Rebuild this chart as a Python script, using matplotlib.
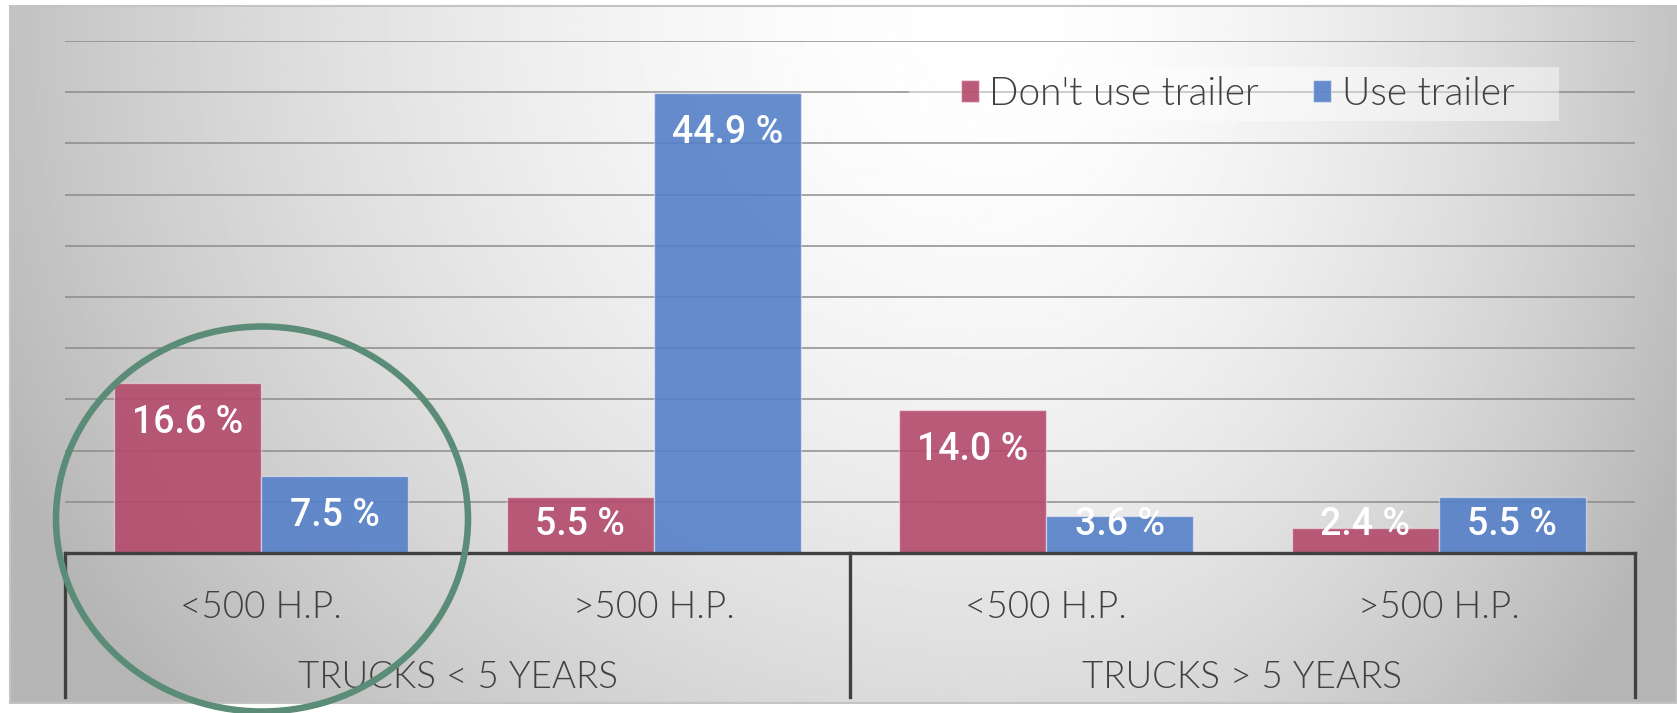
import numpy as np
import matplotlib
import matplotlib.pyplot as plt
from matplotlib.colors import to_rgba
from matplotlib.patches import Ellipse, Rectangle

matplotlib.use("Agg")  # no display, just write the png

# Share of trucks (%) by age group and engine power
categories = ["<500 H.P.", ">500 H.P.", "<500 H.P.", ">500 H.P."]
groups = ["TRUCKS < 5 YEARS", "TRUCKS > 5 YEARS"]
series_names = ["Don't use trailer", "Use trailer"]
no_trailer = [16.6, 5.5, 14.0, 2.4]
with_trailer = [7.5, 44.9, 3.6, 5.5]

RED = "#b34a6b"
BLUE = "#5580c8"
TEXT = "#404040"
LABEL_FONT = ["Lato", "DejaVu Sans"]
VALUE_FONT = ["Roboto", "DejaVu Sans"]

W, H, DPI = 1677, 713, 100
fig = plt.figure(figsize=(W / DPI, H / DPI), dpi=DPI)


def fx(px):
    return px / W


def fy(py):
    # pixel rows are counted from the top
    return 1 - py / H


# Gray panel behind the chart, bright near the top and darker at the edges
x0, y0, x1, y1 = 10, 6, 1677, 703
bg = fig.add_axes([fx(x0), fy(y1), fx(x1 - x0), (y1 - y0) / H])
bg.set_zorder(-1)
xs = np.linspace(x0, x1, 700)
ys = np.linspace(y0, y1, 300)
X, Y = np.meshgrid(xs, ys)
cx, cy = 1000, 20
sx = np.where(X < cx, 1000, 690)
r = np.sqrt(((X - cx) / sx) ** 2 + ((Y - cy) / 940) ** 2)
shade = (255 - 62 * np.clip(r, 0, 1.1) ** 1.7) / 255
bg.imshow(shade, cmap="gray", vmin=0, vmax=1, extent=[x0, x1, y1, y0],
          aspect="auto", interpolation="bilinear")
bg.axis("off")
fig.add_artist(Rectangle((fx(x0), fy(y1)), fx(x1 - x0), (y1 - y0) / H,
                         transform=fig.transFigure, fill=False,
                         edgecolor="#c4c4c4", lw=1.5, zorder=0))

# Plot area
top_px, base_px = 41, 553
ax = fig.add_axes([fx(65), fy(base_px), fx(1635 - 65), (base_px - top_px) / H])
ax.set_zorder(1)
ax.patch.set_alpha(0)
ax.set_xlim(-0.5, len(categories) - 0.5)
ax.set_ylim(0, 50)
for s in ax.spines.values():
    s.set_visible(False)
ax.set_xticks([])
ax.set_yticks([])

for v in np.arange(5, 51, 5):
    ax.axhline(v, color="#888888", lw=1.4, alpha=0.75, zorder=1)

x = np.arange(len(categories))
w = 0.375
bars_a = ax.bar(x - w / 2, no_trailer, w, color=to_rgba(RED, 0.9),
                edgecolor=(1, 1, 1, 0.45), lw=1, zorder=2, label=series_names[0])
bars_b = ax.bar(x + w / 2, with_trailer, w, color=to_rgba(BLUE, 0.9),
                edgecolor=(1, 1, 1, 0.45), lw=1, zorder=2, label=series_names[1])

# value labels sit inside the top of each bar, but never drop below the axis
for xs_, vals in ((x - w / 2, no_trailer), (x + w / 2, with_trailer)):
    for xi, v in zip(xs_, vals):
        ax.text(xi, max(v - 4.9, 1.8), f"{v:.1f} %", ha="center", va="baseline",
                color="white", fontsize=27, family=VALUE_FONT, fontweight=500,
                zorder=4)

ax.axhline(0, color=TEXT, lw=2.4, zorder=3, clip_on=False)

# Two-level category axis
trans = ax.get_xaxis_transform()
scale = base_px - top_px
for i, lab in enumerate(categories):
    ax.text(i, -(617.5 - base_px) / scale, lab, transform=trans, ha="center",
            va="baseline", fontsize=26.5, color=TEXT, family=LABEL_FONT,
            fontweight=300)
for g, lab in enumerate(groups):
    ax.text(2 * g + 0.5, -(687.5 - base_px) / scale, lab, transform=trans,
            ha="center", va="baseline", fontsize=26.5, color=TEXT,
            family=LABEL_FONT, fontweight=300)
for xb in (-0.5, 1.5, 3.5):
    ax.plot([xb, xb], [0, -(697 - base_px) / scale], transform=trans,
            color=TEXT, lw=2.4, clip_on=False, zorder=3)

# Legend on a pale strip
fig.add_artist(Rectangle((fx(909), fy(121)), fx(650), 54 / H,
                         transform=fig.transFigure, facecolor="white",
                         edgecolor="none", alpha=0.45, zorder=1.5))
leg = fig.legend(handles=[bars_a, bars_b], loc="center left",
                 bbox_to_anchor=(fx(961), fy(94)), ncol=2, frameon=False,
                 borderpad=0, borderaxespad=0, handlelength=0.47,
                 handleheight=0.47, handletextpad=0.26, columnspacing=1.39,
                 prop={"family": LABEL_FONT, "size": 28, "weight": 300})
for t in leg.get_texts():
    t.set_color(TEXT)
leg.set_zorder(5)

# Highlight ring around the first group
fig.add_artist(Ellipse((fx(262), fy(519)), fx(412), 385 / H,
                       transform=fig.transFigure, fill=False,
                       edgecolor="#5b8c78", lw=4.7, zorder=10))

fig.savefig("out.png", dpi=DPI)
